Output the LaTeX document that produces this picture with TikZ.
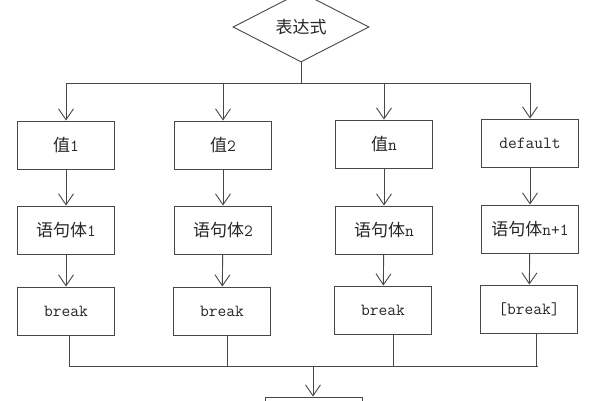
\documentclass[tikz,border=0pt]{standalone}
\usepackage{fontspec}
\usepackage{tikz}
\usetikzlibrary{shapes.geometric,arrows.meta}
\newfontfamily\cjk[Scale=1.0]{Noto Sans CJK SC}

\begin{document}
\begin{tikzpicture}[x=1pt,y=-1pt,
  line width=0.9pt, draw=black!72,
  every node/.style={font=\ttfamily\fontsize{17}{19}\selectfont, text=black!85},
  stepbox/.style={draw=black!72, rectangle, minimum width=97pt, minimum height=48pt, inner sep=0pt},
  arr/.style={-{Straight Barb[length=11pt,width=15pt,line width=0.9pt]}}]
\clip (0,0) rectangle (600,400);
%Expression
\node[draw=black!72, diamond, minimum width=136pt, minimum height=70pt, inner sep=0pt] (expr) at (301,27) {\cjk 表达式};
\coordinate (busT) at (0,83);
\coordinate (busB) at (0,366);
%Case values
\node[stepbox] (v1) at (66,145) {{\cjk 值}1};
\node[stepbox] (v2) at (223,145) {{\cjk 值}2};
\node[stepbox] (vn) at (384,144) {{\cjk 值}n};
\node[stepbox] (vd) at (530,143) {default};
%Statements
\node[stepbox] (s1) at (66,230) {{\cjk 语句体}1};
\node[stepbox] (s2) at (223,230) {{\cjk 语句体}2};
\node[stepbox] (sn) at (384,230) {{\cjk 语句体}n};
\node[stepbox] (sd) at (530,229) {{\cjk 语句体}n+1};
%Breaks
\node[stepbox] (b1) at (66,311) {break};
\node[stepbox] (b2) at (222,311) {break};
\node[stepbox] (bn) at (383,310) {break};
\node[stepbox] (bd) at (529,309) {[break]};
%Next
\node[stepbox] (next) at (314,421) {};
%Top bus
\draw (expr.south) -- (expr.south |- busT);
\draw (v1.north |- busT) -- (vd.north |- busT);
\foreach \c in {v1,v2,vn,vd}
  \draw[arr] (\c.north |- busT) -- (\c.north);
\draw[arr] (v1) -- (s1);
\draw[arr] (v2) -- (s2);
\draw[arr] (vn) -- (sn);
\draw[arr] (vd) -- (sd);
\draw[arr] (s1) -- (b1);
\draw[arr] (s2) -- (b2);
\draw[arr] (sn) -- (bn);
\draw[arr] (sd) -- (bd);
%Bottom bus
\draw ([xshift=3pt]b1.south) -- ([xshift=3pt]b1.south |- busB);
\draw ([xshift=5pt]b2.south) -- ([xshift=5pt]b2.south |- busB);
\draw ([xshift=10pt]bn.south) -- ([xshift=10pt]bn.south |- busB);
\draw ([xshift=7pt]bd.south) -- ([xshift=7pt]bd.south |- busB);
\draw ([xshift=3pt]b1.south |- busB) -- ([xshift=9pt]bd.south |- busB);
\draw[arr] ([xshift=-1pt]next.north |- busB) -- ([xshift=-1pt]next.north);
\end{tikzpicture}
\end{document}
